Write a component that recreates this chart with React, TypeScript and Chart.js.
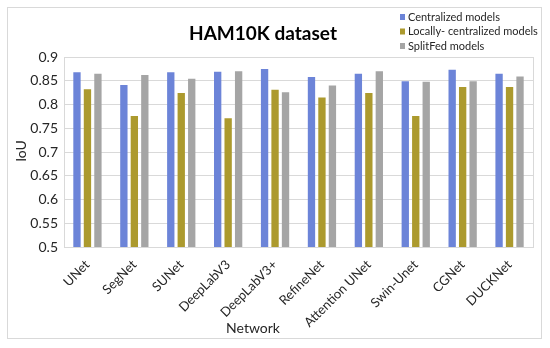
import React, { useEffect, useRef } from "react";
import { Chart, registerables } from "chart.js";

Chart.register(...registerables);

const categories = ["UNet", "SegNet", "SUNet", "DeepLabV3", "DeepLabV3+", "RefineNet", "Attention UNet", "Swin-Unet", "CGNet", "DUCKNet"];
const centralized = [0.868, 0.841, 0.868, 0.869, 0.875, 0.858, 0.865, 0.849, 0.873, 0.865];
const locallyCentralized = [0.832, 0.776, 0.824, 0.771, 0.831, 0.815, 0.824, 0.776, 0.837, 0.837];
const splitFed = [0.865, 0.862, 0.854, 0.870, 0.826, 0.840, 0.870, 0.848, 0.849, 0.859];
const seriesNames = ["Centralized models", "Locally- centralized models", "SplitFed models"];
const seriesColors = ["#6C84D8", "#AC9A2E", "#A5A5A5"];
const titleText = "HAM10K dataset";
const yTitle = "IoU";
const xTitle = "Network";

const FONT = "Lato, 'Noto Sans', sans-serif";

export default function App() {
  const ref = useRef<HTMLCanvasElement | null>(null);
  useEffect(() => {
    document.body.style.margin = "0";
    const canvas = ref.current!;
    const decor = {
      id: "decor",
      beforeDraw(chart: any) {
        const ctx = chart.ctx;
        ctx.save();
        ctx.fillStyle = "#ffffff";
        ctx.fillRect(0, 0, chart.width, chart.height);
        ctx.restore();
      },
      afterDraw(chart: any) {
        const ctx = chart.ctx;
        const a = chart.chartArea;
        ctx.save();
        // outer border
        ctx.strokeStyle = "#d9d9d9";
        ctx.lineWidth = 1;
        ctx.strokeRect(7.5, 7.5, 534, 331);
        // plot border
        ctx.strokeRect(Math.round(a.left) + 0.5, Math.round(a.top) + 0.5, Math.round(a.right - a.left), Math.round(a.bottom - a.top));
        // title
        ctx.fillStyle = "#000000";
        ctx.font = `bold 19px ${FONT}`;
        ctx.textAlign = "center";
        ctx.textBaseline = "middle";
        ctx.fillText(titleText, 263, 34);
        // legend
        ctx.font = `11px ${FONT}`;
        ctx.textAlign = "left";
        seriesNames.forEach((n, i) => {
          const y = 17 + i * 14.5;
          ctx.fillStyle = seriesColors[i];
          ctx.fillRect(400, y - 3, 5, 6);
          ctx.fillStyle = "#262626";
          ctx.fillText(n, 408, y);
        });
        // axis titles
        ctx.font = `14px ${FONT}`;
        ctx.fillStyle = "#262626";
        ctx.textAlign = "center";
        ctx.fillText(xTitle, 253, 328);
        ctx.save();
        ctx.translate(21, 151);
        ctx.rotate(-Math.PI / 2);
        ctx.fillText(yTitle, 0, 0);
        ctx.restore();
        ctx.restore();
      },
    };
    const chart = new Chart(canvas, {
      type: "bar",
      data: {
        labels: categories,
        datasets: [
          { label: seriesNames[0], data: centralized, backgroundColor: seriesColors[0] },
          { label: seriesNames[1], data: locallyCentralized, backgroundColor: seriesColors[1] },
          { label: seriesNames[2], data: splitFed, backgroundColor: seriesColors[2] },
        ],
      },
      options: {
        responsive: false,
        animation: false,
        devicePixelRatio: 1,
        layout: { padding: { left: 10, right: 17, top: 57, bottom: 10 } },
        datasets: { bar: { categoryPercentage: 0.67, barPercentage: 0.7 } } as any,
        plugins: { legend: { display: false }, title: { display: false }, tooltip: { enabled: false } },
        scales: {
          x: {
            grid: { display: false },
            border: { display: false },
            ticks: {
              minRotation: 45,
              maxRotation: 45,
              autoSkip: false,
              color: "#262626",
              font: { family: FONT, size: 13 },
              padding: 2,
            },
            afterFit(scale: any) {
              scale.height = 348 - 10 - 247;
            },
          },
          y: {
            min: 0.5,
            max: 0.9,
            grid: { color: "#d9d9d9", drawTicks: false },
            border: { display: false },
            ticks: {
              stepSize: 0.05,
              color: "#262626",
              font: { family: FONT, size: 14 },
              padding: 6,
              callback: (v: any) => String(parseFloat(Number(v).toFixed(2))),
            },
            afterFit(scale: any) {
              scale.width = 54;
            },
          },
        },
      },
      plugins: [decor],
    });
    return () => chart.destroy();
  }, []);
  return <canvas ref={ref} width={550} height={348} style={{ display: "block" }} />;
}
